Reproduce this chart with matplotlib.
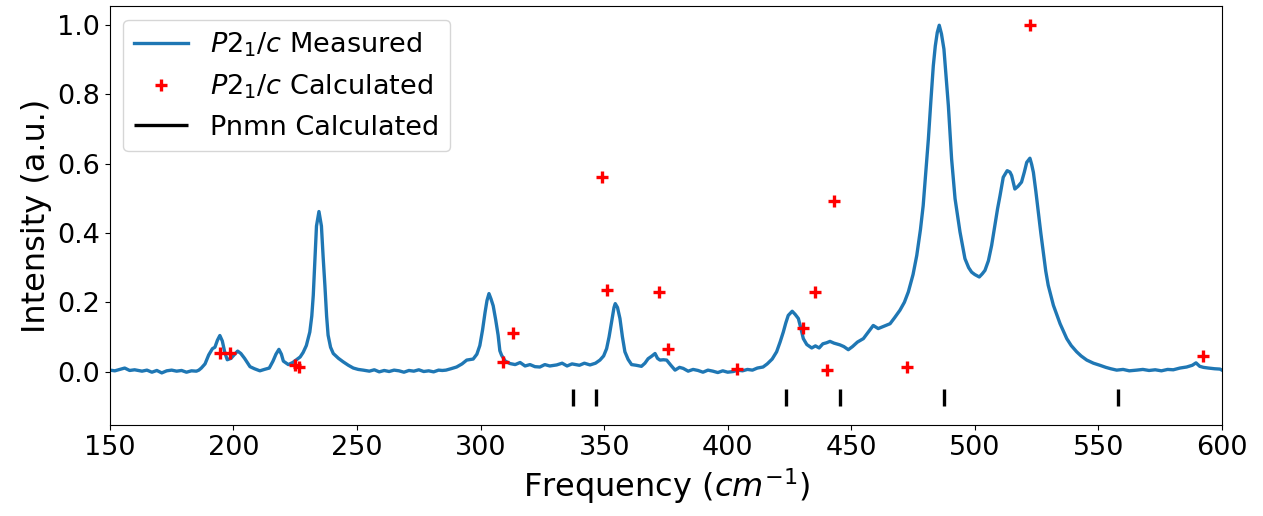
import matplotlib
matplotlib.use("Agg")
import matplotlib.pyplot as plt
import numpy as np

# measured spectrum
freq = [150.0, 152, 154, 156, 158, 160, 163, 165, 167, 169, 171, 173, 175, 177, 179,
        181, 183, 185, 186, 187, 188.5, 190, 191.5, 192.5, 193.5, 194.5, 195.5, 196.5,
        197.5, 199, 200.5, 201.7, 203, 204.5, 206.7, 208.5, 210.7, 212.5, 214.5, 216,
        217.2, 218.4, 219.4, 220.2, 222.2, 224, 225.5, 227, 228.2, 229.5, 230.9, 231.7,
        232.3, 233, 233.6, 234.6, 235.6, 236.3, 237, 237.7, 238.3, 239.3, 240.4, 242.5,
        244.4, 246.5, 248.5, 250.5, 252.5, 255, 257, 259, 261, 263, 265, 267, 269, 271,
        273, 275, 277, 279, 281, 283, 284.5, 286, 288, 290.3, 292.5, 294.4, 297, 298.5,
        299.7, 300.8, 301.8, 302.6, 303.4, 304.2, 305.1, 306.1, 307.1, 307.8, 308.5, 310,
        311.9, 314, 316, 318, 320, 322, 324, 326, 328, 330.8, 333, 335, 337, 340, 342,
        344.3, 346.5, 348.3, 349.8, 351, 352, 353, 354, 354.5, 355.4, 356.4, 357.4,
        358.4, 359.7, 361.1, 363, 365.1, 366.5, 367.8, 369.2, 370.6, 371.6, 372.6, 374,
        375.3, 377, 378.7, 380.5, 382, 384, 386, 388, 390, 392, 394, 396, 398, 400,
        402.3, 404, 406, 408, 410, 412, 414.3, 416, 418, 419.8, 421.2, 422.5, 423.5,
        424.5, 426.1, 427.3, 428.6, 429.6, 430.6, 432, 434, 435.5, 437, 438.5, 440,
        441.4, 443, 445.4, 447, 448.8, 450.5, 452.5, 454.9, 457, 458.9, 460.9, 463,
        465.7, 467.5, 469.7, 471.5, 473.1, 475, 476.5, 478, 479.1, 480.2, 481.2, 482.2,
        483.2, 484, 484.8, 485.6, 486.5, 487.5, 488.4, 489.3, 490.6, 492, 494, 496,
        497.5, 498.7, 500, 501.8, 503, 504.1, 505.5, 506.8, 508.1, 509.2, 510.2, 511.5,
        513.1, 514.2, 514.9, 515.6, 516.2, 517.5, 518.9, 520, 521, 522.3, 523, 523.7,
        524.7, 525.7, 526.7, 527.7, 528.7, 529.7, 531.8, 534.5, 537.2, 539, 541.2, 543,
        545.3, 548, 550.6, 553, 555, 557.4, 560, 562.5, 565.5, 568, 570.5, 573, 575.5,
        578, 580.3, 583, 585.7, 588, 589.5, 591, 592.5, 594.5, 597, 599.2, 600]
intensity = [0.004, 0.002, 0.006, 0.010, 0.003, 0.005, 0.001, 0.004, -0.002, 0.003,
             -0.004, 0.002, 0.004, 0.001, 0.003, -0.002, 0.002, 0.001, 0.004, 0.010,
             0.022, 0.048, 0.066, 0.070, 0.090, 0.104, 0.088, 0.055, 0.034, 0.038, 0.050,
             0.059, 0.052, 0.038, 0.014, 0.008, 0.002, 0.006, 0.010, 0.030, 0.050, 0.064,
             0.050, 0.030, 0.020, 0.026, 0.034, 0.042, 0.055, 0.075, 0.114, 0.16, 0.22,
             0.33, 0.42, 0.462, 0.42, 0.33, 0.249, 0.16, 0.105, 0.07, 0.052, 0.038, 0.028,
             0.018, 0.010, 0.006, 0.004, 0.001, 0.005, -0.001, 0.003, 0.000, 0.004, 0.002,
             -0.002, 0.003, 0.001, 0.005, 0.000, 0.002, -0.001, 0.004, 0.003, 0.004, 0.008,
             0.013, 0.022, 0.033, 0.036, 0.050, 0.075, 0.12, 0.17, 0.205, 0.225, 0.21,
             0.19, 0.15, 0.105, 0.06, 0.047, 0.030, 0.023, 0.020, 0.026, 0.016, 0.020,
             0.014, 0.013, 0.020, 0.016, 0.019, 0.024, 0.016, 0.022, 0.018, 0.024, 0.019,
             0.024, 0.033, 0.045, 0.066, 0.10, 0.143, 0.185, 0.196, 0.185, 0.153, 0.10,
             0.057, 0.035, 0.020, 0.018, 0.015, 0.024, 0.037, 0.044, 0.052, 0.038, 0.033,
             0.034, 0.033, 0.018, 0.004, 0.012, 0.009, 0.001, 0.006, 0.003, -0.002, 0.004,
             0.001, -0.003, 0.002, -0.002, 0.000, 0.004, 0.002, 0.006, 0.004, 0.010, 0.013,
             0.022, 0.036, 0.057, 0.085, 0.114, 0.140, 0.162, 0.174, 0.165, 0.153, 0.125,
             0.095, 0.078, 0.068, 0.074, 0.068, 0.080, 0.083, 0.087, 0.082, 0.077, 0.072,
             0.063, 0.072, 0.085, 0.095, 0.115, 0.133, 0.124, 0.130, 0.138, 0.155, 0.177,
             0.20, 0.23, 0.28, 0.335, 0.41, 0.479, 0.58, 0.671, 0.78, 0.883, 0.94, 0.979,
             1.0, 0.975, 0.931, 0.85, 0.767, 0.614, 0.499, 0.403, 0.326, 0.30, 0.287, 0.28,
             0.273, 0.282, 0.292, 0.32, 0.364, 0.422, 0.47, 0.508, 0.561, 0.58, 0.576,
             0.566, 0.545, 0.527, 0.535, 0.547, 0.575, 0.604, 0.616, 0.598, 0.575, 0.52,
             0.46, 0.40, 0.345, 0.29, 0.249, 0.191, 0.138, 0.095, 0.075, 0.057, 0.045,
             0.033, 0.024, 0.018, 0.012, 0.008, 0.004, 0.006, 0.002, 0.004, 0.006, 0.003,
             0.005, 0.002, 0.006, 0.005, 0.010, 0.013, 0.018, 0.025, 0.015, 0.012, 0.010,
             0.008, 0.007, 0.004]

# P2_1/c calculated modes
calc_freq = [194.5, 198.8, 224.9, 226.5, 309.2, 313.2, 349.0, 351.0, 372.0, 376.0,
             403.9, 430.3, 435.3, 440.0, 443.0, 472.7, 522.3, 592.2]
calc_int = [0.054, 0.054, 0.018, 0.012, 0.028, 0.112, 0.563, 0.236, 0.230, 0.064,
            0.006, 0.126, 0.231, 0.004, 0.493, 0.012, 1.0, 0.045]

# Pnmn calculated modes
pnmn_freq = [337.4, 346.7, 423.6, 445.4, 487.5, 557.9]

fig = plt.figure(figsize=(12.63, 5.16), dpi=100)
ax = fig.add_axes([0.087, 0.176, 0.8805, 0.812])

ax.plot(freq, intensity, color='#1f77b4', lw=2.4, label=r'$P2_1/c$ Measured')
ax.plot(calc_freq, calc_int, '+', color='red', ms=9, mew=2.4, label=r'$P2_1/c$ Calculated')
ax.vlines(pnmn_freq, -0.1, -0.05, color='black', lw=2.4, label='Pnmn Calculated')

ax.set_xlim(150, 600)
ax.set_xlabel(r'Frequency ($cm^{-1}$)', fontsize=23)
ax.set_ylabel('Intensity (a.u.)', fontsize=23)
ax.tick_params(labelsize=19.5)
ax.legend(loc='upper left', fontsize=19.5)

fig.savefig('out.png', dpi=100)
